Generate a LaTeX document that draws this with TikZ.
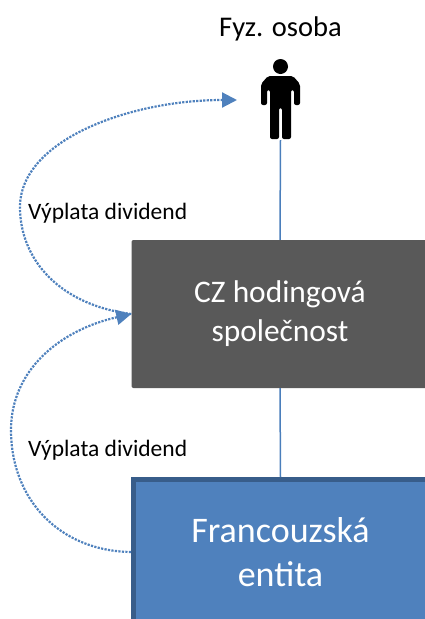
\documentclass[tikz,border=0pt]{standalone}
\usepackage{fontspec}
\setmainfont{Carlito}
\usepackage{xcolor}
\definecolor{595959}{HTML}{595959}
\definecolor{4f81bd}{HTML}{4F81BD}
\definecolor{385d8a}{HTML}{385D8A}
\definecolor{4a7ebb}{HTML}{4A7EBB}
\usepackage{tikz}
\usetikzlibrary{arrows.meta}

\begin{document}
\begin{tikzpicture}[x=1pt, y=-1pt,
    box/.style={rectangle, text=white, align=center, inner sep=0},
    popis/.style={anchor=base west, inner sep=0, font=\fontsize{23.5}{28}\selectfont},
    vyplata/.style={color=4f81bd, line width=2.2pt, dash pattern=on 2.2pt off 1.3pt,
        -{Triangle[length=15pt, width=15pt]}},
    spoj/.style={color=4a7ebb, line width=1.5pt}]
    \useasboundingbox (0, 0) rectangle (425, 619);

    \node (nazev) at (280.5, 36) [anchor=base, inner sep=0, font=\fontsize{28.5}{34}\selectfont] {Fyz. osoba};
    \node (osoba) at (280.5, 98) [minimum width=40, minimum height=84, inner sep=0] {};
    \fill (280.5, 66.5) circle (7.5);
    \fill[rounded corners=2] (261, 105) -- (261, 84) -- (268, 76) -- (293, 76) -- (300, 84)
        -- (300, 105) -- (294, 105) -- (294, 90) -- (291, 90) -- (291, 139) -- (282, 139)
        -- (282, 108) -- (279, 108) -- (279, 139) -- (270, 139) -- (270, 90) -- (267, 90)
        -- (267, 105) -- cycle;

    \node (holding) at (280, 314) [box, fill=595959, rounded corners=2,
        minimum width=297, minimum height=148, font=\fontsize{31.4}{39}\selectfont]
        {CZ hodingová\\společnost};
    \node (entita) at (280.5, 552) [box, fill=4f81bd, draw=385d8a, line width=5pt,
        minimum width=294, minimum height=145, font=\fontsize{36}{44}\selectfont]
        {Francouzská\\entita};

    \node (popis1) at (28, 219) [popis] {Výplata dividend};
    \node (popis2) at (28, 456) [popis] {Výplata dividend};

    \coordinate (cil) at (237, 100);

    \draw[spoj] (osoba.south) -- (holding.north);
    \draw[spoj] (holding.south) -- (entita.north);

    \draw[vyplata] (holding.west) .. controls (60, 305) and (20, 260) .. (20, 207)
        .. controls (20, 140) and (130, 100) .. (cil);
    \draw[vyplata] (entita.west) .. controls (60, 551) and (11, 500) .. (11, 430)
        .. controls (11, 370) and (60, 330) .. (holding.west);
\end{tikzpicture}
\end{document}
